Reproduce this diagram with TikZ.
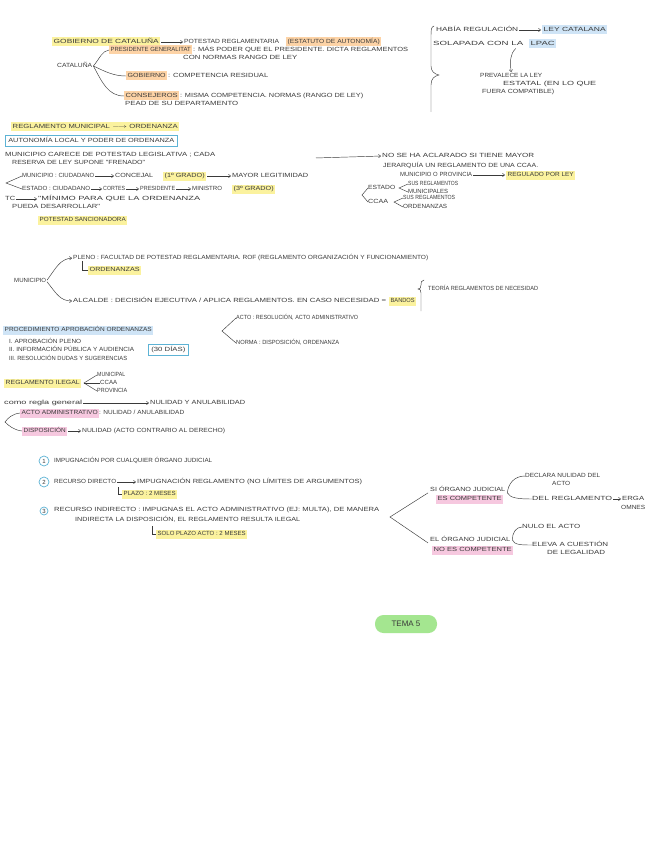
\documentclass[tikz,border=0pt]{standalone}
\usepackage{fontspec}
\usepackage{graphicx}
\usetikzlibrary{arrows.meta}
\newfontfamily\handfont{Liberation Sans}
\newcommand{\tf}{\fontsize{6}{7}\selectfont\handfont}
\newcommand{\W}[2]{\resizebox{#1pt}{\height}{#2}}
\definecolor{ink}{HTML}{3A3A3A}
\definecolor{hly}{HTML}{FBF29E}
\definecolor{hlo}{HTML}{FDD3A6}
\definecolor{hlb}{HTML}{CFE4F6}
\definecolor{hlp}{HTML}{F6C8DF}
\definecolor{boxb}{HTML}{5DB3D5}
\definecolor{pillg}{HTML}{A4E690}
\tikzset{
  t/.style={anchor=west, inner sep=0pt, font=\tf, text=ink, text height=4.6pt, text depth=0.8pt},
  hy/.style={t, fill=hly, inner xsep=1.5pt, inner ysep=1.8pt},
  ho/.style={t, fill=hlo, inner xsep=1.5pt, inner ysep=1.8pt},
  hb/.style={t, fill=hlb, inner xsep=1.5pt, inner ysep=1.8pt},
  hp/.style={t, fill=hlp, inner xsep=1.5pt, inner ysep=1.8pt},
  bx/.style={t, draw=boxb, line width=0.7pt, inner xsep=3pt, inner ysep=2.5pt},
  circ/.style={circle, draw=boxb, line width=0.7pt, inner sep=0pt, minimum size=10pt, font=\tf, text=ink},
  ar/.style={-{Straight Barb[length=2.2pt,width=3.4pt]}, line width=0.45pt, draw=ink, shorten <=1pt, shorten >=1pt},
  ln/.style={line width=0.45pt, draw=ink},
  pill/.style={fill=pillg, rounded corners=8.5pt, minimum width=62pt, minimum height=18pt, inner sep=0pt, font=\fontsize{8}{9}\selectfont\handfont, text=ink}
}
\begin{document}
\begin{tikzpicture}[x=1pt,y=-1pt]
\useasboundingbox[fill=white] (0,0) rectangle (660,848);

% ---------- Gobierno de Cataluña ----------
\node[hy] (gob) at (52,42) {\W{105}{GOBIERNO DE CATALUÑA}};
\node[t] (pot) at (184,42) {\W{95}{POTESTAD REGLAMENTARIA}};
\node[ho] (est) at (286,42) {\W{92}{(ESTATUTO DE AUTONOMÍA)}};
\draw[ar] (gob.east) -- (pot.west);

\node[t] (cat) at (57,66) {\W{35}{CATALUÑA}};
\node[ho] (pres) at (109,50) {\W{80}{PRESIDENTE GENERALITAT}};
\node[t] (prest) at (193,50) {\W{215}{: MÁS PODER QUE EL PRESIDENTE. DICTA REGLAMENTOS}};
\node[t] (pres2) at (183,58) {\W{114}{CON NORMAS RANGO DE LEY}};
\node[ho] (gobi) at (126,76) {\W{38}{GOBIERNO}};
\node[t] (gobit) at (168,76) {\W{100}{: COMPETENCIA RESIDUAL}};
\node[ho] (cons) at (124,96) {\W{52}{CONSEJEROS}};
\node[t] (const) at (180,96) {\W{183}{: MISMA COMPETENCIA. NORMAS (RANGO DE LEY)}};
\node[t] (cons2) at (125,104) {\W{113}{PEAD DE SU DEPARTAMENTO}};
\draw[ln] ([xshift=1pt]cat.east) .. controls (100,58) and (102,51) .. (pres.west);
\draw[ln] ([xshift=1pt]cat.east) .. controls (106,72) and (114,76) .. (gobi.west);
\draw[ln] ([xshift=1pt]cat.east) .. controls (102,82) and (108,96) .. (cons.west);

% ---------- Top right ----------
\draw[ln] (434,26) .. controls (431,27) and (431,30) .. (431,36) -- (431,66) .. controls (431,71) and (434,74) .. (439,75) .. controls (434,76) and (431,79) .. (431,85) -- (431,112);
\node[t] (hab) at (436,30) {\W{82}{HABÍA REGULACIÓN}};
\node[hb] (leyc) at (542,30) {\W{62}{LEY CATALANA}};
\draw[ar] (hab.east) -- (leyc.west);
\node[t] (sol) at (433,44) {\W{90}{SOLAPADA CON LA}};
\node[hb] (lpac) at (529,44) {\W{24}{LPAC}};
\node[t] (prev1) at (480,76) {\W{62}{PREVALECE LA LEY}};
\node[t] (prev2) at (503,84) {\W{93}{ESTATAL (EN LO QUE}};
\node[t] (prev3) at (482,92) {\W{72}{FUERA COMPATIBLE)}};
\draw[ar] ([xshift=-7pt,yshift=-1pt]sol.south east) .. controls (510,54) and (510,61) .. (prev1.north);

% ---------- Reglamento municipal ----------
\node[hy] (regm) at (11,127) {\W{165}{REGLAMENTO MUNICIPAL $\longrightarrow$ ORDENANZA}};
\node[bx] (aut) at (5,141) {\W{166}{AUTONOMÍA LOCAL Y PODER DE ORDENANZA}};
\node[t] (mc1) at (5,155) {\W{210}{MUNICIPIO CARECE DE POTESTAD LEGISLATIVA ; CADA}};
\node[t] (mc2) at (12,163) {\W{133}{RESERVA DE LEY SUPONE "FRENADO"}};

\node[t] (mu1) at (22,176) {\W{72}{MUNICIPIO : CIUDADANO}};
\node[t] (mu2) at (115,176) {\W{38}{CONCEJAL}};
\node[hy] (mu3) at (163,176) {\W{40}{(1º GRADO)}};
\node[t] (mu4) at (232,176) {\W{76}{MAYOR LEGITIMIDAD}};
\draw[ar] (mu1.east) -- (mu2.west);
\draw[ar] (mu3.east) -- (mu4.west);

\node[t] (es1) at (22,189) {\W{68}{ESTADO : CIUDADANO}};
\node[t] (es2) at (103,189) {\W{22}{CORTES}};
\node[t] (es3) at (140,189) {\W{35}{PRESIDENTE}};
\node[t] (es4) at (192,189) {\W{30}{MINISTRO}};
\node[hy] (es5) at (232,189) {\W{40}{(3º GRADO)}};
\draw[ar] (es1.east) -- (es2.west);
\draw[ar] (es2.east) -- (es3.west);
\draw[ar] (es3.east) -- (es4.west);
\coordinate (br1) at (6,183);
\draw[ln] (mu1.west) -- (br1) -- (es1.west);

\node[t] (tc) at (5,199) {\W{10}{TC}};
\node[t] (tc2) at (38,199) {\W{162}{"MÍNIMO PARA QUE LA ORDENANZA}};
\node[t] (tc3) at (12,207) {\W{88}{PUEDA DESARROLLAR"}};
\draw[ar] (tc.east) -- (tc2.west);
\node[hy] (psan) at (38,220) {\W{86}{POTESTAD SANCIONADORA}};

\coordinate (la) at (315,158);
\node[t] (ns1) at (382,156) {\W{152}{NO SE HA ACLARADO SI TIENE MAYOR}};
\node[t] (ns2) at (383,166) {\W{155}{JERARQUÍA UN REGLAMENTO DE UNA CCAA.}};
\node[t] (ns3) at (400,175) {\W{72}{MUNICIPIO O PROVINCIA}};
\node[hy] (ns4) at (506,175) {\W{66}{REGULADO POR LEY}};
\draw[ar] (la) -- (ns1.west);
\draw[ar] (ns3.east) -- (ns4.west);

\node[t] (esd) at (368,188) {\W{27}{ESTADO}};
\node[t] (esr1) at (408,184) {\W{50}{SUS REGLAMENTOS}};
\node[t] (esr2) at (408,192) {\W{40}{MUNICIPALES}};
\coordinate (eb) at (399,188);
\draw[ln] (esr1.west) -- (eb) -- (esr2.west);
\node[t] (ccd) at (368,202) {\W{20}{CCAA}};
\node[t] (ccr1) at (403,198) {\W{52}{SUS REGLAMENTOS}};
\node[t] (ccr2) at (403,207) {\W{44}{ORDENANZAS}};
\coordinate (cb) at (394,202);
\draw[ln] (ccr1.west) -- (cb) -- (ccr2.west);
\coordinate (ob) at (362,195);
\draw[ln] (esd.west) -- (ob) -- (ccd.west);

% ---------- Municipio ----------
\node[t] (mun) at (14,281) {\W{32}{MUNICIPIO}};
\node[t] (pleno) at (73,258) {\W{355}{PLENO : FACULTAD DE POTESTAD REGLAMENTARIA. ROF (REGLAMENTO ORGANIZACIÓN Y FUNCIONAMIENTO)}};
\node[hy] (ord) at (88,270) {\W{50}{ORDENANZAS}};
\draw[ln] ([xshift=9pt]pleno.south west) |- (ord.west);
\node[t] (alc) at (73,301) {\W{313}{ALCALDE : DECISIÓN EJECUTIVA / APLICA REGLAMENTOS. EN CASO NECESIDAD =}};
\node[hy] (band) at (389,301) {\W{24}{BANDOS}};
\draw[ar] (mun.east) .. controls (56,268) and (60,259) .. (pleno.west);
\draw[ar] (mun.east) .. controls (56,293) and (60,301) .. (alc.west);
\draw[ln] (424,280) .. controls (421,280) and (421,283) .. (421,285) .. controls (421,288) and (420,289) .. (418,289) .. controls (420,289) and (421,290) .. (421,293) -- (421,311);
\node[t] (teo) at (428,289) {\W{110}{TEORÍA REGLAMENTOS DE NECESIDAD}};

% ---------- Acto / Norma ----------
\node[t] (acto) at (236,318) {\W{122}{ACTO : RESOLUCIÓN, ACTO ADMINISTRATIVO}};
\node[t] (norma) at (236,343) {\W{103}{NORMA : DISPOSICIÓN, ORDENANZA}};
\coordinate (an) at (222,331);
\draw[ln] (acto.west) -- (an) -- (norma.west);

% ---------- Procedimiento ----------
\node[hb] (proc) at (3,330) {\W{147}{PROCEDIMIENTO APROBACIÓN ORDENANZAS}};
\node[t] (pa1) at (9,342) {\W{72}{I. APROBACIÓN PLENO}};
\node[t] (pa2) at (9,350) {\W{125}{II. INFORMACIÓN PÚBLICA Y AUDIENCIA}};
\node[t] (pa3) at (9,359) {\W{118}{III. RESOLUCIÓN DUDAS Y SUGERENCIAS}};
\node[bx] (dias) at (148,350) {\W{34}{(30 DÍAS)}};

\node[hy] (regil) at (4,383) {\W{74}{REGLAMENTO ILEGAL}};
\coordinate (rv) at (84,383);
\node[t] (rm) at (97,375) {\W{28}{MUNICIPAL}};
\node[t] (rc) at (100,383) {\W{17}{CCAA}};
\node[t] (rp) at (97,391) {\W{30}{PROVINCIA}};
\draw[ln] (rm.west) -- (rv) -- (rp.west);
\draw[ln] (rv) -- (rc.west);

\node[t] (como) at (4,403) {\W{78}{como regla general}};
\node[t] (nul) at (150,403) {\W{95}{NULIDAD Y ANULABILIDAD}};
\draw[ar] (como.east) -- (nul.west);
\node[hp] (aa) at (20,413) {\W{76}{ACTO ADMINISTRATIVO}};
\node[t] (aat) at (99,413) {\W{85}{: NULIDAD / ANULABILIDAD}};
\node[hp] (dis) at (22,431) {\W{42}{DISPOSICIÓN}};
\node[t] (dist) at (82,431) {\W{143}{NULIDAD (ACTO CONTRARIO AL DERECHO)}};
\draw[ar] (dis.east) -- (dist.west);
\coordinate (dv) at (5,422);
\draw[ln] (aa.west) .. controls (12,414) and (8,418) .. (dv) .. controls (9,426) and (14,430) .. (dis.west);

% ---------- Recursos ----------
\node[circ] (c1) at (44,461) {1};
\node[t] (i1) at (54,461) {\W{158}{IMPUGNACIÓN POR CUALQUIER ÓRGANO JUDICIAL}};
\node[circ] (c2) at (44,482) {2};
\node[t] (rd) at (54,482) {\W{62}{RECURSO DIRECTO}};
\node[t] (rd2) at (137,482) {\W{225}{IMPUGNACIÓN REGLAMENTO (NO LÍMITES DE ARGUMENTOS)}};
\draw[ar] (rd.east) -- (rd2.west);
\node[hy] (plazo) at (122,494) {\W{52}{PLAZO : 2 MESES}};
\draw[ln] ([xshift=-4pt,yshift=7pt]plazo.west) |- (plazo.west);
\node[circ, minimum size=8pt] (c3) at (44,511) {3};
\node[t] (ri) at (54,510) {\W{325}{RECURSO INDIRECTO : IMPUGNAS EL ACTO ADMINISTRATIVO (EJ: MULTA), DE MANERA}};
\node[t] (ri2) at (75,520) {\W{225}{INDIRECTA LA DISPOSICIÓN, EL REGLAMENTO RESULTA ILEGAL}};
\node[hy] (solo) at (156,534) {\W{88}{SOLO PLAZO ACTO : 2 MESES}};
\draw[ln] ([xshift=-4pt,yshift=8pt]solo.west) |- (solo.west);

% ---------- Órgano judicial ----------
\coordinate (ov) at (390,517);
\node[t] (si1) at (430,490) {\W{75}{SI ÓRGANO JUDICIAL}};
\node[hp] (si2) at (436,499) {\W{64}{ES COMPETENTE}};
\node[t] (no1) at (430,540) {\W{80}{EL ÓRGANO JUDICIAL}};
\node[hp] (no2) at (432,550) {\W{78}{NO ES COMPETENTE}};
\draw[ln] ([xshift=-2pt]si1.south west) -- (ov) -- ([xshift=-2pt]no1.south west);

\node[t] (d1) at (525,476) {\W{75}{DECLARA NULIDAD DEL}};
\node[t] (d2) at (552,484) {\W{18}{ACTO}};
\node[t] (d3) at (532,499) {\W{80}{DEL REGLAMENTO}};
\node[t] (erga) at (622,499) {\W{22}{ERGA}};
\node[t] (omnes) at (621,508) {\W{24}{OMNES}};
\draw[ar] (d3.east) -- (erga.west);
\draw[ln] ([xshift=2pt]si1.south east) .. controls (508,484) and (514,476) .. (d1.west);
\draw[ln] ([xshift=2pt]si1.south east) .. controls (510,498) and (518,499) .. (d3.west);

\node[t] (nu1) at (522,527) {\W{58}{NULO EL ACTO}};
\node[t] (el1) at (532,545) {\W{76}{ELEVA A CUESTIÓN}};
\node[t] (el2) at (547,553) {\W{58}{DE LEGALIDAD}};
\draw[ln] ([xshift=2pt]no1.east) .. controls (512,533) and (516,527) .. (nu1.west);
\draw[ln] ([xshift=2pt]no1.east) .. controls (514,545) and (522,545) .. (el1.west);

% ---------- Tema ----------
\node[pill] (tema) at (406,624) {TEMA 5};
\end{tikzpicture}
\end{document}
